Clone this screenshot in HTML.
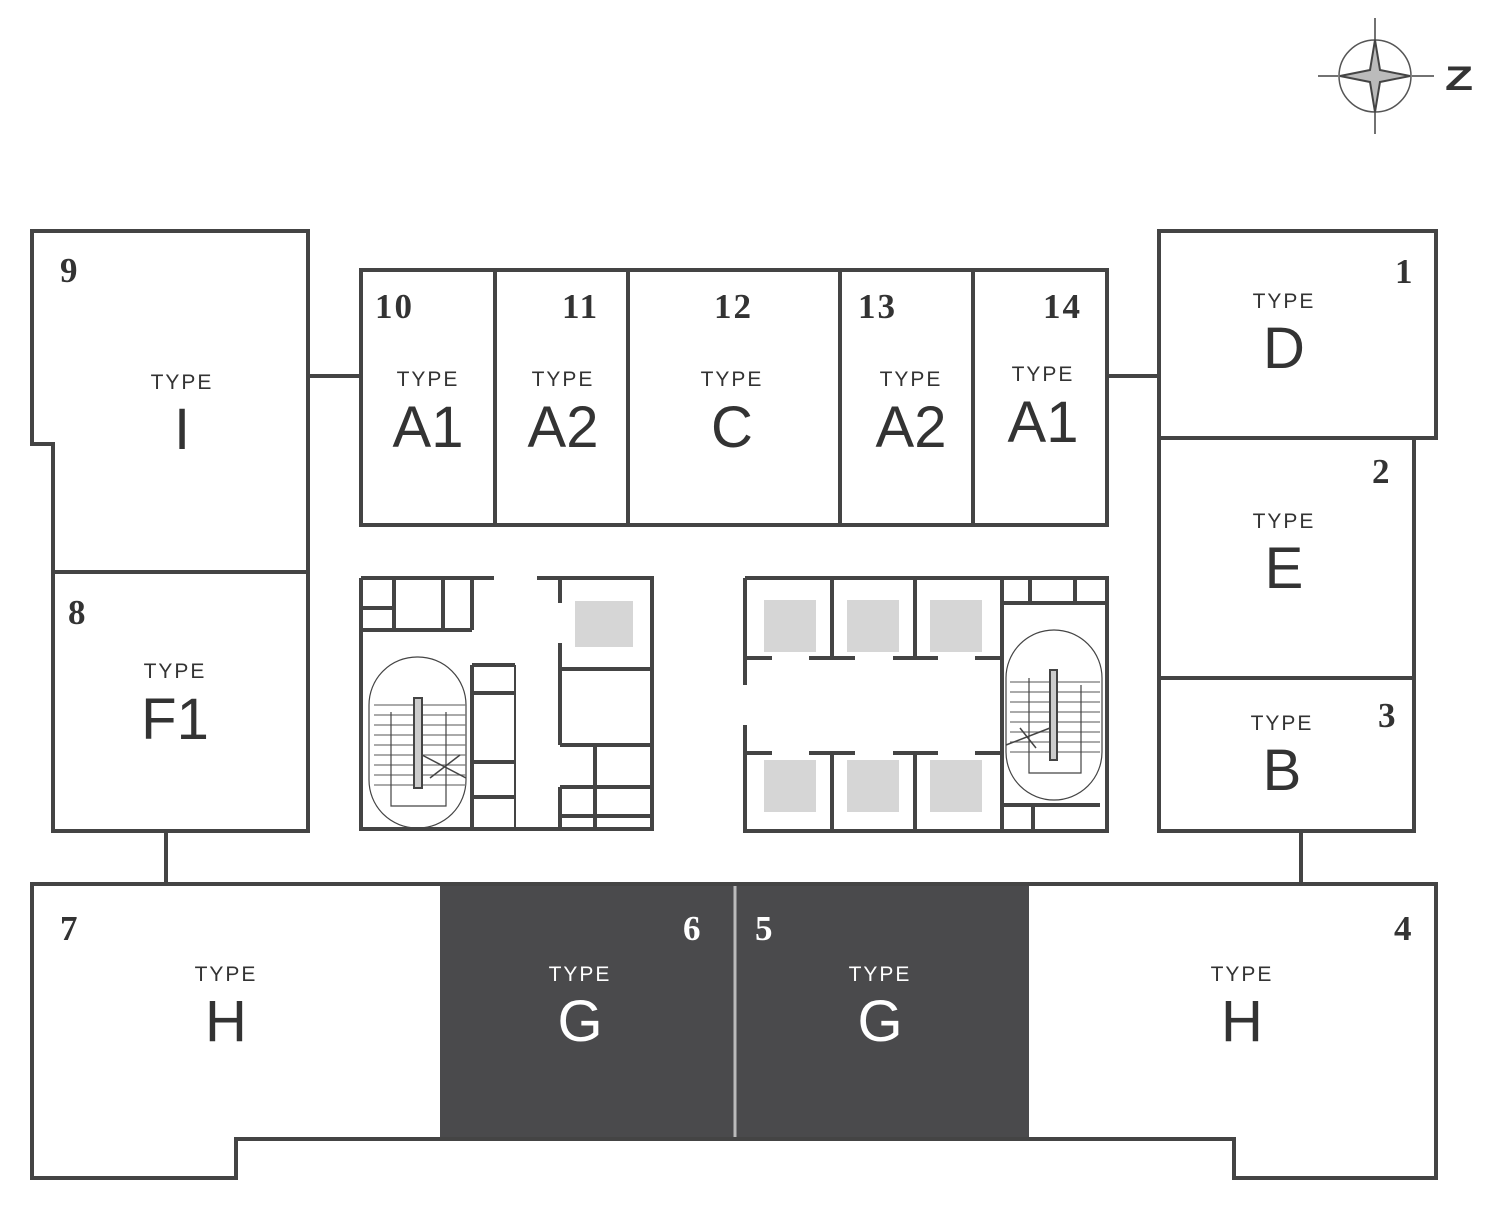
<!DOCTYPE html>
<html><head><meta charset="utf-8"><style>
html,body{margin:0;padding:0;background:#fff;}
svg{display:block;}
.n{font-family:"Liberation Serif",serif;font-weight:bold;font-size:35px;letter-spacing:2px;fill:#333;}
.t{font-family:"Liberation Sans",sans-serif;font-size:21px;letter-spacing:2px;fill:#333;text-anchor:middle;}
.L{font-family:"Liberation Sans",sans-serif;font-size:58px;fill:#333;text-anchor:middle;}
.w .t,.w .L,.w .n{fill:#fff;}
</style></head><body>
<svg width="1500" height="1211" viewBox="0 0 1500 1211" xmlns="http://www.w3.org/2000/svg">
<g fill="none" stroke="#444" stroke-width="4">
<circle cx="1375" cy="76" r="36" stroke-width="1.5" stroke="#555"/>
<path d="M1375 18v22M1375 112v22M1318 76h20M1412 76h22" stroke-width="1.5"/>
<path d="M1375 40l5 30 30 6-30 6-5 30-5-30-30-6 30-6z" stroke-width="2" fill="#bbb"/>
<path d="M32 231H308V572H53V444H32Z"/>
<rect x="53" y="572" width="255" height="259"/>
<path d="M308 376H360M1107 376H1159M166 831V884M1301 831V884"/>
<rect x="361" y="270" width="746" height="255"/>
<path d="M495 270V525M628 270V525M840 270V525M973 270V525"/>
<rect x="1159" y="231" width="277" height="207"/>
<rect x="1159" y="438" width="255" height="240"/>
<rect x="1159" y="678" width="255" height="153"/>
<rect x="440" y="886" width="589" height="251" fill="#4a4a4c" stroke="none"/>
<path d="M32 884H1436V1178H1234V1139H236V1178H32Z"/>
<path d="M735 886V1137" stroke="#bbb" stroke-width="3"/>
</g>
<g fill="none" stroke="#444" stroke-width="4">
<rect x="575" y="601" width="58" height="46" fill="#d6d6d6" stroke="none"/>
<path d="M361 578H494M537 578H652V829H361V578"/>
<path d="M394 578V630M443 578V630M472 578V630M361 608H392M361 630H472"/>
<path d="M472 665V829M472 665H515M472 693H515M472 762H515M472 797H515"/>
<path d="M515 665V829" stroke-width="2"/>
<path d="M560 578V603M560 643V745M560 669H652M560 745H652M595 745V829M560 787H652M560 816H652M560 787V829"/>
<rect x="369" y="657" width="97" height="171" rx="48" stroke-width="1.2"/>
<path d="M374 705H466M374 715H466M374 725H466M374 735H466M374 745H466M374 755H466M374 765H466M374 775H466M374 785H466" stroke-width="1.2" stroke="#777"/>
<path d="M391 712V806H446V712" stroke-width="1.2"/>
<rect x="414" y="698" width="8" height="90" stroke-width="2" fill="#ccc"/>
<path d="M422 755L466 778M430 778L460 755" stroke-width="1.5"/>
</g>
<g fill="none" stroke="#444" stroke-width="4">
<rect x="764" y="600" width="52" height="52" fill="#d6d6d6" stroke="none"/>
<rect x="847" y="600" width="52" height="52" fill="#d6d6d6" stroke="none"/>
<rect x="930" y="600" width="52" height="52" fill="#d6d6d6" stroke="none"/>
<rect x="764" y="760" width="52" height="52" fill="#d6d6d6" stroke="none"/>
<rect x="847" y="760" width="52" height="52" fill="#d6d6d6" stroke="none"/>
<rect x="930" y="760" width="52" height="52" fill="#d6d6d6" stroke="none"/>
<path d="M745 578H1107V831H745V725M745 685V578"/>
<path d="M832 578V658M915 578V658M832 753V831M915 753V831M1002 578V831"/>
<path d="M745 658H772M809 658H855M893 658H938M975 658H1000M745 753H772M809 753H855M893 753H938M975 753H1000"/>
<path d="M1002 603H1107M1030 578V603M1075 578V603M1002 805H1100M1033 805V831"/>
<rect x="1006" y="630" width="96" height="170" rx="48" stroke-width="1.2"/>
<path d="M1010 682H1100M1010 692H1100M1010 702H1100M1010 712H1100M1010 722H1100M1010 732H1100M1010 742H1100M1010 752H1100" stroke-width="1.2" stroke="#777"/>
<path d="M1029 678V773H1081V685" stroke-width="1.2"/>
<rect x="1050" y="670" width="7" height="90" stroke-width="2" fill="#ccc"/>
<path d="M1006 745L1050 728M1020 728L1036 748" stroke-width="1.5"/>
</g>
<text class="L" x="1459" y="90" style="font-weight:bold;font-size:34px" transform="translate(1459 78) scale(1.35 1) translate(-1459 -78)">Z</text>
<text class="n" x="60" y="282">9</text>
<text class="t" x="182" y="389">TYPE</text><text class="L" x="182" y="449">I</text>
<text class="n" x="68" y="624">8</text>
<text class="t" x="175" y="678">TYPE</text><text class="L" x="175" y="739">F1</text>
<text class="n" x="375" y="318">10</text>
<text class="t" x="428" y="386">TYPE</text><text class="L" x="428" y="447">A1</text>
<text class="n" x="562" y="318">11</text>
<text class="t" x="563" y="386">TYPE</text><text class="L" x="563" y="447">A2</text>
<text class="n" x="714" y="318">12</text>
<text class="t" x="732" y="386">TYPE</text><text class="L" x="732" y="447">C</text>
<text class="n" x="858" y="318">13</text>
<text class="t" x="911" y="386">TYPE</text><text class="L" x="911" y="447">A2</text>
<text class="n" x="1043" y="318">14</text>
<text class="t" x="1043" y="381">TYPE</text><text class="L" x="1043" y="442">A1</text>
<text class="n" x="1395" y="283">1</text>
<text class="t" x="1284" y="308">TYPE</text><text class="L" x="1284" y="368">D</text>
<text class="n" x="1372" y="483">2</text>
<text class="t" x="1284" y="528">TYPE</text><text class="L" x="1284" y="588">E</text>
<text class="n" x="1378" y="727">3</text>
<text class="t" x="1282" y="730">TYPE</text><text class="L" x="1282" y="790">B</text>
<text class="n" x="60" y="940">7</text>
<text class="t" x="226" y="981">TYPE</text><text class="L" x="226" y="1041">H</text>
<g class="w">
<text class="n" x="683" y="940">6</text>
<text class="t" x="580" y="981">TYPE</text><text class="L" x="580" y="1041">G</text>
<text class="n" x="755" y="940">5</text>
<text class="t" x="880" y="981">TYPE</text><text class="L" x="880" y="1041">G</text>
</g>
<text class="n" x="1394" y="940">4</text>
<text class="t" x="1242" y="981">TYPE</text><text class="L" x="1242" y="1041">H</text>
</svg>
</body></html>
